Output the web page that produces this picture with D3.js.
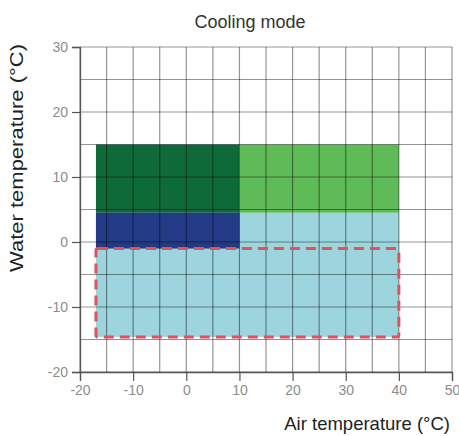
<!DOCTYPE html>
<html><head><meta charset="utf-8">
<script src="https://cdn.jsdelivr.net/npm/d3@7"></script>
<style>body{margin:0;background:#fff;} svg{display:block;}</style>
</head><body>
<svg id="c" width="459" height="436"></svg>
<script>
// Data
const xDomain = [-20, 50];
const yDomain = [-20, 30];
const xTicks = [-20, -10, 0, 10, 20, 30, 40, 50];
const yTicks = [-20, -10, 0, 10, 20, 30];
const gridStep = 5;
// Operating regions: [xMin, xMax, yMin, yMax]
const regionNames = ["lightBlue", "darkGreen", "lightGreen", "navy"];
const regionX0 = [-17, -17, 10, -17];
const regionX1 = [40, 10, 40, 10];
const regionY0 = [-14.6, 4.5, 4.5, -1];
const regionY1 = [4.5, 15, 15, 4.5];
const regionColors = ["#9dd5de", "#0f6a3a", "#5fbb57", "#233a86"];
// Dashed zone
const dashedZone = {x0: -17, x1: 40, y0: -14.6, y1: -1};

const svg = d3.select("#c");
const x = d3.scaleLinear().domain(xDomain).range([80, 452]);
const y = d3.scaleLinear().domain(yDomain).range([372, 47]);

// fills
regionNames.forEach((n, i) => {
  svg.append("rect")
    .attr("x", x(regionX0[i])).attr("y", y(regionY1[i]))
    .attr("width", x(regionX1[i]) - x(regionX0[i]))
    .attr("height", y(regionY0[i]) - y(regionY1[i]))
    .attr("fill", regionColors[i]);
});

// grid
const gx = d3.range(xDomain[0], xDomain[1] + 0.1, gridStep);
const gy = d3.range(yDomain[0], yDomain[1] + 0.1, gridStep);
svg.append("g").selectAll("line").data(gx).join("line")
  .attr("x1", d => x(d)).attr("x2", d => x(d))
  .attr("y1", y(yDomain[0])).attr("y2", y(yDomain[1]))
  .attr("stroke", "rgba(0,0,0,0.42)").attr("stroke-width", 1.2);
svg.append("g").selectAll("line").data(gy).join("line")
  .attr("y1", d => y(d)).attr("y2", d => y(d))
  .attr("x1", x(xDomain[0])).attr("x2", x(xDomain[1]))
  .attr("stroke", "rgba(0,0,0,0.42)").attr("stroke-width", 1.2);

// dashed zone
svg.append("rect")
  .attr("x", x(dashedZone.x0)).attr("y", y(dashedZone.y1))
  .attr("width", x(dashedZone.x1) - x(dashedZone.x0))
  .attr("height", y(dashedZone.y0) - y(dashedZone.y1))
  .attr("rx", 2)
  .attr("fill", "none").attr("stroke", "#e2525a").attr("stroke-width", 3)
  .attr("stroke-dasharray", "10,6");

// axes
const xAxis = d3.axisBottom(x).tickValues(xTicks).tickSize(9).tickPadding(4).tickFormat(d => d);
const yAxis = d3.axisLeft(y).tickValues(yTicks).tickSize(8).tickPadding(4).tickFormat(d => d);
const ga = svg.append("g").attr("transform", `translate(0,${y(yDomain[0])})`).call(xAxis);
const gb = svg.append("g").attr("transform", `translate(${x(xDomain[0])},0)`).call(yAxis);
[ga, gb].forEach(g => {
  g.select(".domain").attr("stroke", "#555").attr("stroke-width", 1.3);
  g.selectAll(".tick line").attr("stroke", "#555").attr("stroke-width", 1.2);
  g.selectAll("text").attr("fill", "#8c8c8c").attr("font-size", 14)
    .attr("font-family", "Liberation Sans, Arial, sans-serif");
});
ga.selectAll(".tick line").attr("y1", -0);

// titles
svg.append("text").attr("x", 250).attr("y", 28).attr("text-anchor", "middle")
  .attr("font-family", "Liberation Sans, Arial, sans-serif").attr("font-size", 18)
  .attr("fill", "#333").text("Cooling mode");
svg.append("text").attr("x", 450).attr("y", 430).attr("text-anchor", "end")
  .attr("font-family", "Liberation Sans, Arial, sans-serif").attr("font-size", 18.5)
  .attr("fill", "#222").text("Air temperature (°C)");
svg.append("text").attr("transform", "translate(23,158) rotate(-90)").attr("text-anchor", "middle")
  .attr("font-family", "Liberation Sans, Arial, sans-serif").attr("font-size", 19)
  .attr("textLength", 228).attr("lengthAdjust", "spacingAndGlyphs")
  .attr("fill", "#222").text("Water temperature (°C)");
</script>
</body></html>
